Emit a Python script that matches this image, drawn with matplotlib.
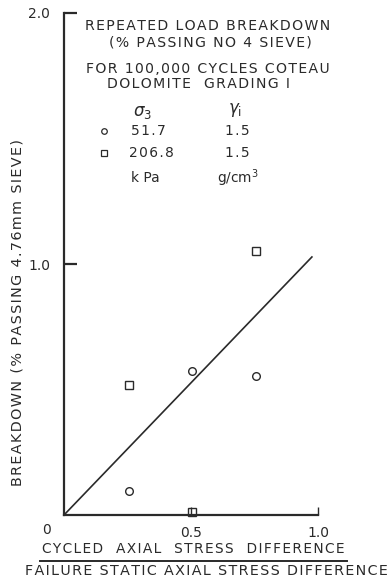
import matplotlib.pyplot as plt
from matplotlib.lines import Line2D

# breakdown vs. stress ratio, two confining pressures
ratio_low = [0.256, 0.504, 0.756]
breakdown_low = [0.096, 0.572, 0.552]
ratio_high = [0.256, 0.504, 0.756]
breakdown_high = [0.516, 0.012, 1.05]
fit_x = [0.0, 0.976]
fit_y = [0.0, 1.028]

xticks = [0.5, 1.0]
xticklabels = ['0.5', '1.0']
yticks = [1.0, 2.0]
yticklabels = ['1.0', '2.0']

ink = '#2a2a2a'
plt.rcParams['font.family'] = 'DejaVu Sans'
HS = '\u200a'


def spaced(s):
    return HS.join(s)


fig = plt.figure(figsize=(3.91, 5.79), dpi=100)
ax = fig.add_axes([64 / 391, 64 / 579, 254 / 391, 502 / 579])

ax.plot(fit_x, fit_y, color=ink, lw=1.2)
ax.plot(ratio_low, breakdown_low, 'o', ms=5.5, mfc='none', mec=ink, mew=1.0, clip_on=False)
ax.plot(ratio_high, breakdown_high, 's', ms=5.5, mfc='none', mec=ink, mew=1.0, clip_on=False)

ax.set_xlim(0, 1.0)
ax.set_ylim(0, 2.0)
for s in ['top', 'right']:
    ax.spines[s].set_visible(False)
for s in ['left', 'bottom']:
    ax.spines[s].set_linewidth(1.6)
    ax.spines[s].set_color(ink)

ax.set_xticks(xticks)
ax.set_xticklabels(xticklabels)
ax.set_yticks(yticks)
ax.set_yticklabels(yticklabels)
ax.tick_params(axis='x', direction='in', length=6, width=1.0, colors=ink, labelsize=10, pad=8)
ax.tick_params(axis='y', direction='in', length=9, width=1.6, colors=ink, labelsize=10, pad=10)
ax.text(-0.07, -0.03, '0', transform=ax.transData, ha='center', va='top', fontsize=10, color=ink)


def t(x, y, s, ha='center', fontsize=9.9, **kw):
    fig.text(x / 391, 1 - y / 579, s, ha=ha, va='center', fontsize=fontsize, color=ink, **kw)


# legend block written as text
t(208, 26, spaced('REPEATED LOAD BREAKDOWN'), fontsize=10.1)
t(210, 43, spaced('(% PASSING NO 4 SIEVE)'), fontsize=10.1)
t(208, 69, spaced('FOR 100,000 CYCLES COTEAU'), fontsize=10.1)
t(198, 84, spaced('DOLOMITE  GRADING I'), fontsize=10.1)
t(143, 112, r'$\sigma_3$', fontsize=12)
t(235, 110, r'$\gamma_{\rm i}$', fontsize=12)
fig.add_artist(Line2D([104 / 391], [1 - 131 / 579], marker='o', ms=4, mfc='none', mec=ink, mew=0.9))
fig.add_artist(Line2D([104 / 391], [1 - 153 / 579], marker='s', ms=4, mfc='none', mec=ink, mew=0.9))
t(148, 131, spaced('51.7'))
t(151, 153, spaced('206.8'))
t(237, 131, spaced('1.5'))
t(237, 153, spaced('1.5'))
t(145, 178, 'k Pa')
t(238, 178, r'g/cm$^3$')

# y axis title
fig.text(18 / 391, 1 - 313 / 579, spaced('BREAKDOWN (% PASSING 4.76mm SIEVE)'),
         rotation=90, ha='center', va='center', fontsize=10.4, color=ink)

# x axis title as a ratio
t(193, 549, spaced('CYCLED  AXIAL  STRESS  DIFFERENCE'))
fig.add_artist(Line2D([40 / 391, 347 / 391], [1 - 561 / 579, 1 - 561 / 579], color=ink, lw=1.4))
t(206, 571, spaced('FAILURE STATIC AXIAL STRESS DIFFERENCE'), fontsize=10.3)

fig.savefig('out.png', dpi=100)
